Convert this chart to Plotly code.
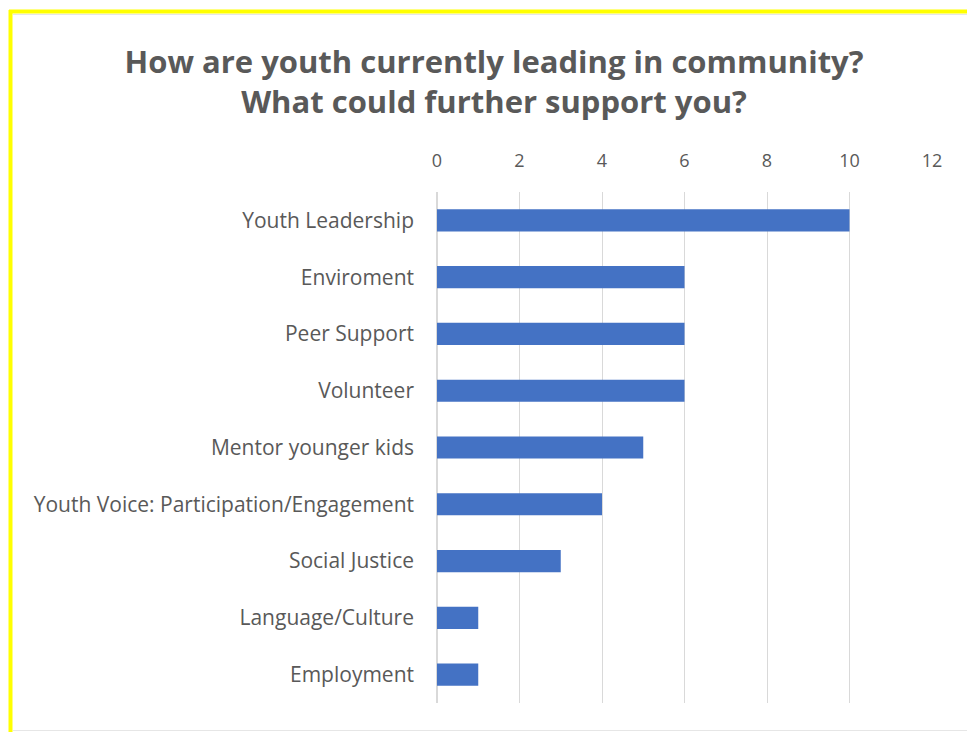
import plotly.graph_objects as go

# Survey categories (top to bottom) and response counts
categories = [
    "Youth Leadership",
    "Enviroment",
    "Peer Support",
    "Volunteer",
    "Mentor younger kids",
    "Youth Voice: Participation/Engagement",
    "Social Justice",
    "Language/Culture",
    "Employment",
]
counts = [10, 6, 6, 6, 5, 4, 3, 1, 1]
x_ticks = [0, 2, 4, 6, 8, 10, 12]

W, H = 967, 732
ML, MR, MT, MB = 437, 35, 192, 29

def px_x(p):
    return (p - ML) / (W - ML - MR)

def px_y(p):
    return 1 - (p - MT) / (H - MT - MB)

fig = go.Figure(
    go.Bar(
        x=counts,
        y=categories,
        orientation="h",
        marker=dict(color="#4472C4", line=dict(width=0)),
    )
)

fig.update_layout(
    width=W,
    height=H,
    margin=dict(l=ML, r=MR, t=MT, b=MB),
    paper_bgcolor="white",
    plot_bgcolor="white",
    bargap=0.61,
    showlegend=False,
    title=dict(
        text="How are youth currently leading in community?<br>What could further support you?",
        x=494 / W,
        xref="container",
        xanchor="center",
        y=1 - 73 / H,
        yref="container",
        yanchor="middle",
        font=dict(family="Open Sans", size=31, color="#595959", weight="bold"),
    ),
    font=dict(family="Open Sans", color="#595959"),
    xaxis=dict(
        side="top",
        range=[0, 12],
        tickvals=x_ticks,
        showgrid=True,
        gridcolor="#D9D9D9",
        gridwidth=1,
        zeroline=True,
        zerolinecolor="#D9D9D9",
        showline=False,
        ticks="",
        ticklabelstandoff=20,
        tickfont=dict(size=18, color="#595959"),
    ),
    yaxis=dict(
        categoryorder="array",
        categoryarray=categories[::-1],
        showgrid=False,
        zeroline=False,
        showline=False,
        ticks="",
        ticklabelstandoff=22,
        tickfont=dict(size=21, color="#595959"),
    ),
    shapes=[
        # yellow frame along the top and left edges
        dict(type="line", xref="paper", yref="paper",
             x0=px_x(9), x1=px_x(W + 5), y0=px_y(11.5), y1=px_y(11.5),
             line=dict(color="#FFFF00", width=4)),
        dict(type="line", xref="paper", yref="paper",
             x0=px_x(10.5), x1=px_x(10.5), y0=px_y(10), y1=px_y(H + 5),
             line=dict(color="#FFFF00", width=4)),
        # faint inner border of the chart box
        dict(type="line", xref="paper", yref="paper",
             x0=px_x(13), x1=px_x(W + 5), y0=px_y(14.5), y1=px_y(14.5),
             line=dict(color="#E6E6E6", width=1)),
        dict(type="line", xref="paper", yref="paper",
             x0=px_x(13), x1=px_x(W + 5), y0=px_y(730.5), y1=px_y(730.5),
             line=dict(color="#E6E6E6", width=1)),
    ],
)

fig.write_html("out.html")
